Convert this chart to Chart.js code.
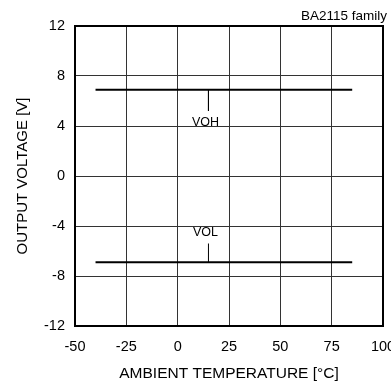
<!DOCTYPE html>
<html>
<head>
<meta charset="utf-8">
<script src="https://cdn.jsdelivr.net/npm/chart.js@4"></script>
<style>
  html, body { margin: 0; padding: 0; background: #fff; }
  #wrap { width: 391px; height: 383px; position: relative; }
</style>
</head>
<body>
<div id="wrap"><canvas id="myChart"></canvas></div>
<script>
const temps = [-40, 85];
const vohValues = [6.9, 6.9];
const volValues = [-6.9, -6.9];
const xTicks = [-50, -25, 0, 25, 50, 75, 100];
const yTicks = [-12, -8, -4, 0, 4, 8, 12];
const notes = [
    { text: 'VOH', x: 15, from: 6.9, to: 5.2, textY: 4.3 },
    { text: 'VOL', x: 15, from: -6.9, to: -5.4, textY: -4.5 }
];

const font = 'Liberation Sans, Arial, sans-serif';

// leader lines + labels for VOH / VOL, plus box outline and family note
const notePlugin = {
    id: 'notes',
    afterDatasetsDraw: (chart) => {
        const { ctx, chartArea, scales } = chart;
        ctx.save();
        ctx.strokeStyle = '#000';
        ctx.lineWidth = 2;
        ctx.strokeRect(chartArea.left, chartArea.top, chartArea.right - chartArea.left, chartArea.bottom - chartArea.top);
        ctx.fillStyle = '#000';
        ctx.font = '12.5px ' + font;
        ctx.textAlign = 'center';
        ctx.textBaseline = 'middle';
        notes.forEach(n => {
            ctx.fillText(n.text, scales.x.getPixelForValue(n.x) - 3, scales.y.getPixelForValue(n.textY));
        });
        ctx.font = '13.5px ' + font;
        ctx.textAlign = 'right';
        ctx.textBaseline = 'alphabetic';
        ctx.fillText('BA2115 family', chart.width - 4, 20);
        ctx.restore();
    }
};

const ctx = document.getElementById('myChart').getContext('2d');
const chart = new Chart(ctx, {
    type: 'scatter',
    data: {
        datasets: [
            {
                label: 'VOH',
                data: temps.map((t, i) => ({ x: t, y: vohValues[i] })),
                showLine: true, borderColor: '#000', borderWidth: 2, pointRadius: 0
            },
            {
                label: 'VOL',
                data: temps.map((t, i) => ({ x: t, y: volValues[i] })),
                showLine: true, borderColor: '#000', borderWidth: 2, pointRadius: 0
            },
            ...notes.map(n => ({
                label: n.text + ' leader',
                data: [{ x: n.x, y: n.from }, { x: n.x, y: n.to }],
                showLine: true, borderColor: '#000', borderWidth: 1, pointRadius: 0
            }))
        ]
    },
    options: {
        responsive: true,
        maintainAspectRatio: false,
        animation: false,
        layout: { padding: { top: 26, right: 8, left: 0, bottom: 0 } },
        plugins: {
            legend: { display: false },
            tooltip: { enabled: false }
        },
        scales: {
            x: {
                type: 'linear',
                min: -50,
                max: 100,
                afterBuildTicks: (scale) => { scale.ticks = xTicks.map(v => ({ value: v })); },
                afterFit: (scale) => {
                    scale.height = 57;
                    scale.paddingLeft = 0;
                    scale.paddingRight = 0;
                },
                grid: { color: '#333', lineWidth: 1, tickLength: 0 },
                border: { display: false },
                ticks: { color: '#000', font: { family: font, size: 14.5 }, padding: 12, maxRotation: 0 },
                title: {
                    display: true,
                    text: 'AMBIENT TEMPERATURE [°C]',
                    color: '#000',
                    font: { family: font, size: 15.5 },
                    padding: { top: 0, bottom: 0 }
                }
            },
            y: {
                type: 'linear',
                min: -12,
                max: 12,
                afterBuildTicks: (scale) => { scale.ticks = yTicks.map(v => ({ value: v })); },
                afterFit: (scale) => {
                    scale.width = 75;
                    scale.paddingTop = 0;
                    scale.paddingBottom = 0;
                },
                grid: { color: '#333', lineWidth: 1, tickLength: 0 },
                border: { display: false },
                ticks: { color: '#000', font: { family: font, size: 14.5 }, padding: 10 },
                title: {
                    display: true,
                    text: 'OUTPUT VOLTAGE [V]',
                    color: '#000',
                    font: { family: font, size: 15 },
                    padding: { top: 14, bottom: 0 }
                }
            }
        }
    },
    plugins: [notePlugin]
});
</script>
</body>
</html>
